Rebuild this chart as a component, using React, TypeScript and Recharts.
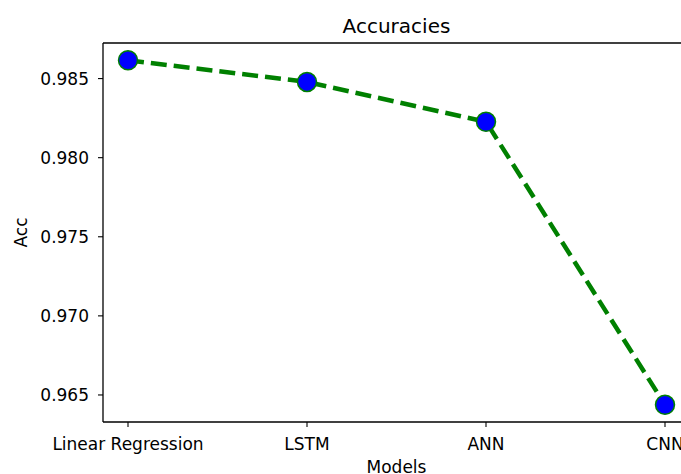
import React from "react";
import { LineChart, Line, XAxis, YAxis } from "recharts";

const models = ["Linear Regression", "LSTM", "ANN", "CNN"];
const accuracies = [0.98616, 0.98479, 0.98227, 0.96438];
const yTicks = [0.965, 0.97, 0.975, 0.98, 0.985];

const data = models.map((m, i) => ({ model: m, acc: accuracies[i] }));

const minV = Math.min(...accuracies);
const maxV = Math.max(...accuracies);
const pad = (maxV - minV) * 0.05;

const FONT = "'DejaVu Sans', sans-serif";

export default function App() {
  return (
    <div
      style={{
        position: "absolute",
        left: 0,
        top: 0,
        width: 681,
        height: 474,
        overflow: "hidden",
        background: "#fff",
      }}
    >
      <LineChart
        width={700}
        height={474}
        data={data}
        margin={{ top: 0, right: 10, bottom: 0, left: 0 }}
      >
        <XAxis
          xAxisId="top"
          orientation="top"
          dataKey="model"
          height={43}
          tick={false}
          tickLine={false}
          axisLine={{ stroke: "#000", strokeWidth: 1.3 }}
          padding={{ left: 25, right: 25 }}
          label={{
            value: "Accuracies",
            position: "insideTop",
            offset: 19,
            style: { fill: "#000", fontSize: 20, fontFamily: FONT },
          }}
        />
        <XAxis
          dataKey="model"
          height={52}
          padding={{ left: 25, right: 25 }}
          tickSize={5}
          tickMargin={11}
          interval={0}
          axisLine={{ stroke: "#000", strokeWidth: 1.3 }}
          tickLine={{ stroke: "#000", strokeWidth: 1.1 }}
          tick={{ fill: "#000", fontSize: 17, fontFamily: FONT }}
          label={{
            value: "Models",
            position: "insideBottom",
            offset: 1,
            style: { fill: "#000", fontSize: 17, fontFamily: FONT },
          }}
        />
        <YAxis
          type="number"
          width={103}
          domain={[minV - pad, maxV + pad]}
          allowDataOverflow
          ticks={yTicks}
          tickFormatter={(v: number) => v.toFixed(3)}
          tickSize={5}
          tickMargin={9}
          axisLine={{ stroke: "#000", strokeWidth: 1.3 }}
          tickLine={{ stroke: "#000", strokeWidth: 1.1 }}
          tick={{ fill: "#000", fontSize: 17, fontFamily: FONT }}
          label={{
            value: "Acc",
            angle: -90,
            position: "insideLeft",
            offset: 21,
            style: { fill: "#000", fontSize: 17, fontFamily: FONT, textAnchor: "middle" },
          }}
        />
        <Line
          type="linear"
          dataKey="acc"
          stroke="#008000"
          strokeWidth={4.5}
          strokeDasharray="16 7"
          isAnimationActive={false}
          dot={{
            r: 9.5,
            fill: "#0000ff",
            stroke: "#008000",
            strokeWidth: 1.5,
            strokeDasharray: "none",
          }}
          activeDot={false}
        />
      </LineChart>
    </div>
  );
}
